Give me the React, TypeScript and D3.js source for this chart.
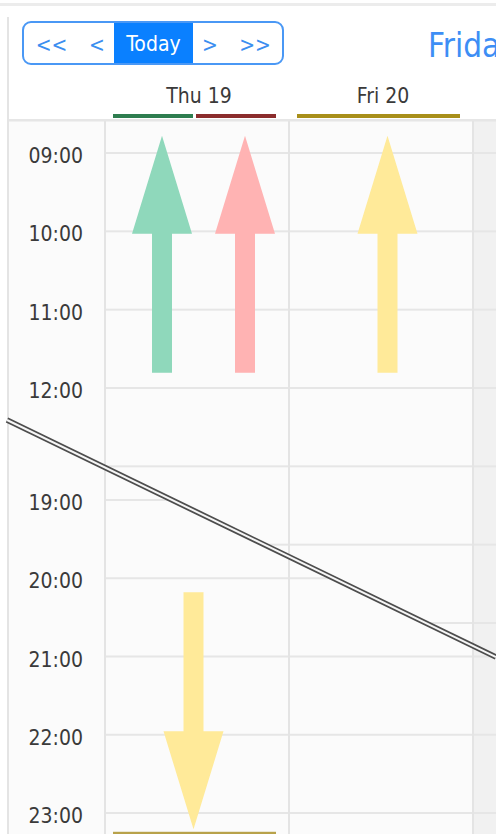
import React from "react";
import * as d3 from "d3";

// calendar data
const days = ["Thu 19", "Fri 20", "Sat 21"];
const shownDays = ["Thu 19", "Fri 20"];
const upperHours = [9, 10, 11, 12, 13, 14, 15, 16];
const lowerHours = [17, 18, 19, 20, 21, 22, 23];
const upperLabels = [9, 10, 11, 12];
const lowerLabels = [19, 20, 21, 22, 23];
const navLabels = ["<<", "<", "Today", ">", ">>"];
const title = "Friday";

// events that run past the visible hours (drawn as arrows)
const eventDay = ["Thu 19", "Thu 19", "Fri 20", "Thu 19"];
const eventLane = [0, 1, 0, 0];
const eventLanes = [2, 2, 1, 1];
const eventFrom = [8.78, 8.78, 8.78, 20.18];
const eventTo = [11.8, 11.8, 11.8, 23.24];
const eventDir = ["up", "up", "up", "down"];
const eventFill = ["#8fd8bb", "#ffb3b3", "#ffea99", "#ffea99"];
const eventStrip = ["#2e7d4f", "#8b2c2c", "#a88f1a", "#b8a24a"];

const W = 496;
const H = 834;
const FONT = "'DejaVu Sans Condensed', 'DejaVu Sans', sans-serif";
const navWidths = [57, 34, 79, 34, 56];

const App = () => {
  const x = d3.scaleBand().domain(days).range([105, 105 + 184 * 3]);
  const yUp = d3.scaleLinear().domain([9, 12]).range([153, 388]);
  const yLo = d3.scaleLinear().domain([19, 23]).range([500, 813]);
  const diag = d3.scaleLinear().domain([7, 496]).range([420, 657]);

  const upperClip = `0,0 ${W},0 ${W},${diag(W)} 0,${diag(0)}`;
  const lowerClip = `0,${diag(0)} ${W},${diag(W)} ${W},${H} 0,${H}`;

  // lane box of an event inside its day column
  const box = (i) => {
    const x0 = x(eventDay[i]) + 8;
    const lw = (x.bandwidth() - 18) / eventLanes[i];
    return [x0 + eventLane[i] * lw, x0 + (eventLane[i] + 1) * lw - 3];
  };

  const arrow = (i) => {
    const [a, b] = box(i);
    const up = eventDir[i] === "up";
    const cx = (a + b) / 2 + (up ? 9 : -1);
    const head = 98, shaft = 139;
    if (up) {
      const t = yUp(eventFrom[i]);
      return `M${cx},${t}L${cx + 30},${t + head}L${cx + 10},${t + head}L${cx + 10},${t + head + shaft}L${cx - 10},${t + head + shaft}L${cx - 10},${t + head}L${cx - 30},${t + head}Z`;
    }
    const s = yLo(eventFrom[i]);
    return `M${cx - 10},${s}L${cx + 10},${s}L${cx + 10},${s + shaft}L${cx + 30},${s + shaft}L${cx},${s + shaft + head}L${cx - 30},${s + shaft}L${cx - 10},${s + shaft}Z`;
  };

  const navX = d3.cumsum([23, ...navWidths]);

  const line = d3.line()([[7, diag(7)], [W, diag(W)]]);

  return (
    <svg width={W} height={H} style={{ position: "absolute", left: 0, top: 0 }} fontFamily={FONT}>
      <defs>
        <clipPath id="clipUp"><polygon points={upperClip} /></clipPath>
        <clipPath id="clipLo"><polygon points={lowerClip} /></clipPath>
      </defs>
      <rect width={W} height={H} fill="#ffffff" />
      <rect x={0} y={3} width={W} height={3} fill="#ececec" />
      <rect x={7} y={17} width={2} height={H} fill="#e4e4e4" />

      {/* nav buttons */}
      <g>
        <rect x={23} y={22} width={260} height={42} rx={8} fill="#ffffff" />
        <rect x={navX[2]} y={22} width={navWidths[2]} height={42} fill="#0a80ff" />
        {navLabels.map((t, i) => (
          <text key={t} x={navX[i] + navWidths[i] / 2} y={t === "Today" ? 51 : 52} textAnchor="middle"
            fontSize={21} fill={t === "Today" ? "#ffffff" : "#3b8ef0"}>{t}</text>
        ))}
        {navX.slice(1, 5).map((v) => (
          <line key={v} x1={v} x2={v} y1={22} y2={64} stroke="#4a98f5" strokeWidth={1.5} />
        ))}
        <rect x={23} y={22} width={260} height={42} rx={8} fill="none" stroke="#4a98f5" strokeWidth={2} />
      </g>
      <text x={428} y={57} fontSize={33} fill="#3d8ef5">{title}</text>

      {/* day header */}
      {shownDays.map((d) => (
        <text key={d} x={x(d) + x.bandwidth() / 2 + 2} y={103} textAnchor="middle" fontSize={21} fill="#3a3a3a">{d}</text>
      ))}
      {eventDir.map((dir, i) => {
        if (dir !== "up") return null;
        const [a, b] = box(i);
        return <rect key={i} x={a} y={114} width={b - a} height={4} fill={eventStrip[i]} />;
      })}

      {/* body */}
      <rect x={9} y={121} width={W} height={H} fill="#fbfbfb" />
      <rect x={x("Sat 21")} y={121} width={x.bandwidth()} height={H} fill="#f1f1f1" />
      <rect x={9} y={119} width={W} height={2.5} fill="#e6e6e6" />

      <g clipPath="url(#clipUp)">
        {upperHours.map((h) => (
          <rect key={h} x={104} y={yUp(h) - 1} width={W} height={2} fill="#e6e6e6" />
        ))}
        {upperLabels.map((h) => (
          <text key={h} x={83} y={yUp(h) + 10} textAnchor="end" fontSize={21} fill="#3a3a3a">
            {d3.format("02")(h)}:00
          </text>
        ))}
      </g>
      <g clipPath="url(#clipLo)">
        {lowerHours.map((h) => (
          <rect key={h} x={104} y={yLo(h) - 1} width={W} height={2} fill="#e6e6e6" />
        ))}
        {lowerLabels.map((h) => (
          <text key={h} x={83} y={yLo(h) + 10} textAnchor="end" fontSize={21} fill="#3a3a3a">
            {d3.format("02")(h)}:00
          </text>
        ))}
      </g>

      {days.map((d) => x(d)).map((v) => (
        <rect key={v} x={v - 1} y={121} width={2} height={H} fill="#e4e4e4" />
      ))}

      {eventDir.map((dir, i) => (
        <path key={i} d={arrow(i)} fill={eventFill[i]} clipPath={dir === "up" ? "url(#clipUp)" : "url(#clipLo)"} />
      ))}
      {eventDir.map((dir, i) => {
        if (dir !== "down") return null;
        const [a, b] = box(i);
        return <rect key={i} x={a} y={yLo(eventTo[i])} width={b - a} height={4} fill={eventStrip[i]} />;
      })}

      {/* break between the two hour ranges */}
      <path d={line} stroke="#4d4d4d" strokeWidth={5.5} fill="none" />
      <path d={line} stroke="#f6f6f6" strokeWidth={2} fill="none" />
    </svg>
  );
};

export default App;
